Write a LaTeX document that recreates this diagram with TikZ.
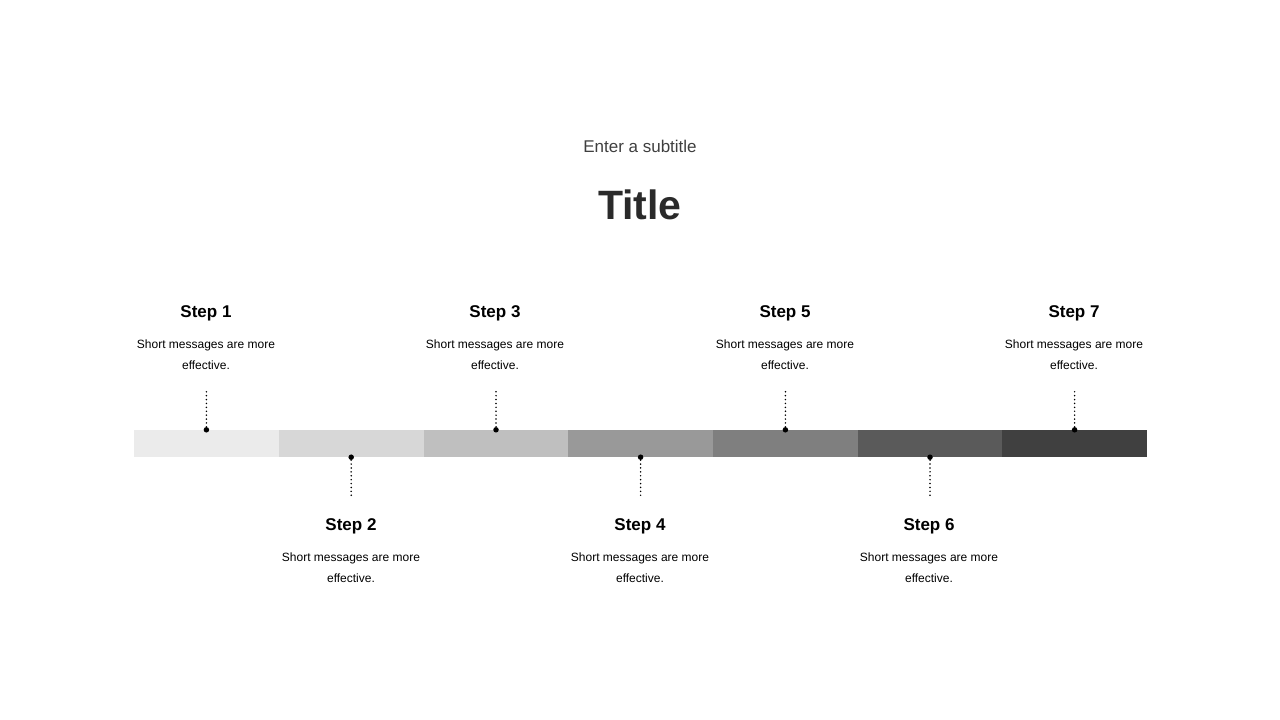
\documentclass[tikz,border=0pt]{standalone}
\usepackage{fontspec}
\setmainfont{Liberation Sans}
\usepackage{xcolor}
\usetikzlibrary{positioning}
\definecolor{tone1}{HTML}{EBEBEB}
\definecolor{tone2}{HTML}{D7D7D7}
\definecolor{tone3}{HTML}{BFBFBF}
\definecolor{tone4}{HTML}{999999}
\definecolor{tone5}{HTML}{7F7F7F}
\definecolor{tone6}{HTML}{5A5A5A}
\definecolor{tone7}{HTML}{404040}
\definecolor{ink}{HTML}{2A2A2A}

\begin{document}
\begin{tikzpicture}[x=1pt,y=-1pt]
\tikzset{
    seg/.style={%
        rectangle, inner sep=0pt,
        minimum height=27pt,
        minimum width=144.9pt
        },
    pin/.style={%
        circle, fill=black, inner sep=0pt,
        minimum size=5.5pt
        },
    lead/.style={%
        line width=1.7pt, line cap=round, dash pattern=on 0pt off 3.9pt
        },
    steplabel/.style={font=\bfseries\fontsize{17}{20}\selectfont},
    stepnote/.style={align=center, font=\fontsize{12}{21}\selectfont},
}
\useasboundingbox (0,0) rectangle (1280,720);
%%%HEADER
\node[text=ink!90, font=\fontsize{17}{20}\selectfont] (subtitle) at (640,146.5) {Enter a subtitle};
\node[text=ink, font=\bfseries\fontsize{41}{48}\selectfont] (title) at (640,205) {Title};
%%%BAR
\node[seg, fill=tone1] (b1) at (206.4,443.5) {};
\node[seg, fill=tone2] (b2) at (351.2,443.5) {};
\node[seg, fill=tone3] (b3) at (496.0,443.5) {};
\node[seg, fill=tone4] (b4) at (640.6,443.5) {};
\node[seg, fill=tone5] (b5) at (785.4,443.5) {};
\node[seg, fill=tone6] (b6) at (930.0,443.5) {};
\node[seg, fill=tone7] (b7) at (1074.6,443.5) {};
%%%PINS
\node[pin] (p1) at (b1.north) {};
\node[pin] (p2) at (b2.south) {};
\node[pin] (p3) at (b3.north) {};
\node[pin] (p4) at (b4.south) {};
\node[pin] (p5) at (b5.north) {};
\node[pin] (p6) at (b6.south) {};
\node[pin] (p7) at (b7.north) {};
\coordinate (e1) at (206.4,390);
\coordinate (e2) at (351.2,497);
\coordinate (e3) at (496.0,390);
\coordinate (e4) at (640.6,497);
\coordinate (e5) at (785.4,390);
\coordinate (e6) at (930.0,497);
\coordinate (e7) at (1074.6,390);
\draw[lead] (p1) -- (e1);
\draw[lead] (p2) -- (e2);
\draw[lead] (p3) -- (e3);
\draw[lead] (p4) -- (e4);
\draw[lead] (p5) -- (e5);
\draw[lead] (p6) -- (e6);
\draw[lead] (p7) -- (e7);
%%%STEPS
\node[steplabel] (s1) at (206,313) {Step 1};
\node[stepnote] (n1) at (206,354.5) {Short messages are more\\effective.};
\node[steplabel] (s2) at (351,526) {Step 2};
\node[stepnote] (n2) at (351,567.5) {Short messages are more\\effective.};
\node[steplabel] (s3) at (495,313) {Step 3};
\node[stepnote] (n3) at (495,354.5) {Short messages are more\\effective.};
\node[steplabel] (s4) at (640,526) {Step 4};
\node[stepnote] (n4) at (640,567.5) {Short messages are more\\effective.};
\node[steplabel] (s5) at (785,313) {Step 5};
\node[stepnote] (n5) at (785,354.5) {Short messages are more\\effective.};
\node[steplabel] (s6) at (929,526) {Step 6};
\node[stepnote] (n6) at (929,567.5) {Short messages are more\\effective.};
\node[steplabel] (s7) at (1074,313) {Step 7};
\node[stepnote] (n7) at (1074,354.5) {Short messages are more\\effective.};
\end{tikzpicture}
\end{document}
